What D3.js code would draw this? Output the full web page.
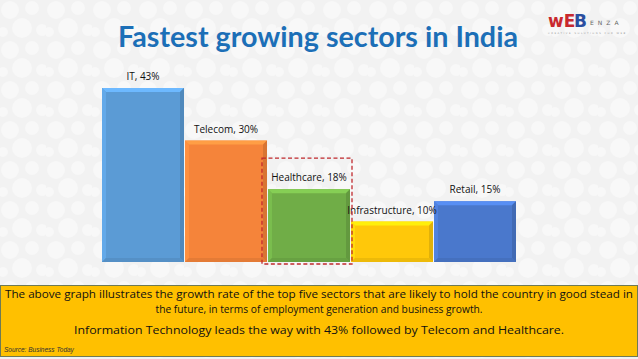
<!DOCTYPE html>
<html><head><meta charset="utf-8">
<script src="https://cdn.jsdelivr.net/npm/d3@7"></script>
<style>html,body{margin:0;padding:0;background:#f4f4f4;}svg{display:block;}</style>
</head><body>
<script>
const categories = ["IT", "Telecom", "Healthcare", "Infrastructure", "Retail"];
const values = [43, 30, 18, 10, 15];
const colors = ["#5B9BD5", "#F5843A", "#70AD47", "#FFC80A", "#4A78CC"];
const title = "Fastest growing sectors in India";
const notes = [
  "The above graph illustrates the growth rate of the top five sectors that are likely to hold the country in good stead in",
  "the future, in terms of employment generation and business growth.",
  "Information Technology leads the way with 43% followed by Telecom and Healthcare."
];
const source = "Source: Business Today";

const W = 638, H = 359;
const svg = d3.select("body").append("svg").attr("width", W).attr("height", H);
const defs = svg.append("defs");

// background circle texture
const pat = defs.append("pattern").attr("id","bgp").attr("width",46).attr("height",40).attr("patternUnits","userSpaceOnUse");
pat.append("rect").attr("width",46).attr("height",40).attr("fill","#f2f2f2");
[[10,10,9],[32,8,7],[22,28,10],[42,30,6],[3,32,5]].forEach(c=>{
  pat.append("circle").attr("cx",c[0]).attr("cy",c[1]).attr("r",c[2]).attr("fill","#f8f8f8");
});
svg.append("rect").attr("width",W).attr("height",H).attr("fill","url(#bgp)");

// title
svg.append("text").attr("x", 318).attr("y", 47).attr("text-anchor","middle")
  .attr("font-family","Lato, 'DejaVu Sans', sans-serif").attr("font-weight",700)
  .attr("font-size",28).attr("fill","#1C6FB7")
  .attr("textLength",400).attr("lengthAdjust","spacingAndGlyphs").text(title);

// logo
const logo = svg.append("g").attr("font-family","'DejaVu Sans', sans-serif");
logo.append("text").attr("x",548).attr("y",27).attr("font-size",17).attr("font-weight",700).attr("fill","#C8282E").text("wE");
logo.append("text").attr("x",574).attr("y",27).attr("font-size",17).attr("font-weight",700).attr("fill","#2B4FA0").text("B");
logo.append("text").attr("x",590).attr("y",25).attr("font-size",6).attr("letter-spacing",4).attr("fill","#666").text("ENZA");
logo.append("text").attr("x",548).attr("y",34).attr("font-size",2.5).attr("letter-spacing",1.5).attr("fill","#999").text("CREATIVE SOLUTIONS FOR WEB");

// scales
const x = d3.scaleBand().domain(categories).range([102, 516]).paddingInner(0.012);
const y = d3.scaleLinear().domain([0, 43]).range([262, 88]);

const bars = svg.append("g");
const b = 4;
categories.forEach((c,i)=>{
  const x0 = x(c), w = x.bandwidth(), y0 = y(values[i]), y1 = y(0);
  const base = d3.color(colors[i]);
  const g = bars.append("g");
  g.append("rect").attr("x",x0).attr("y",y0).attr("width",w).attr("height",y1-y0).attr("fill",base);
  const lighter = base.brighter(0.5).formatHex(), light2 = base.brighter(0.25).formatHex();
  const darker = base.darker(0.35).formatHex(), darker2 = base.darker(0.2).formatHex();
  g.append("polygon").attr("points",[[x0,y0],[x0+w,y0],[x0+w-b,y0+b],[x0+b,y0+b]].join(" ")).attr("fill",lighter);
  g.append("polygon").attr("points",[[x0,y0],[x0+b,y0+b],[x0+b,y1-b],[x0,y1]].join(" ")).attr("fill",light2);
  g.append("polygon").attr("points",[[x0+w,y0],[x0+w,y1],[x0+w-b,y1-b],[x0+w-b,y0+b]].join(" ")).attr("fill",darker);
  g.append("polygon").attr("points",[[x0,y1],[x0+w,y1],[x0+w-b,y1-b],[x0+b,y1-b]].join(" ")).attr("fill",darker2);
  svg.append("text").attr("x",x0+w/2).attr("y",y0-8).attr("text-anchor","middle")
    .attr("font-family","'Open Sans', sans-serif").attr("font-size",10).attr("fill","#111")
    .text(`${c}, ${values[i]}%`);
});

// highlight dashed box around Healthcare
const hx = x("Healthcare");
svg.append("rect").attr("x",hx-6).attr("y",y(18)-31).attr("width",x.bandwidth()+8).attr("height",y(0)-y(18)+33)
  .attr("fill","none").attr("stroke","#C0282D").attr("stroke-width",1.3).attr("stroke-dasharray","4,2.5");

// note box
svg.append("rect").attr("x",0.5).attr("y",285.5).attr("width",637).attr("height",71).attr("fill","#FFC000").attr("stroke","#6E7A55").attr("stroke-width",1);
const nf = "'Open Sans', sans-serif";
svg.append("text").attr("x",5).attr("y",298).attr("font-family",nf).attr("font-size",11).attr("fill","#111").text(notes[0])
  .attr("textLength",628).attr("lengthAdjust","spacingAndGlyphs");
svg.append("text").attr("x",319).attr("y",313).attr("text-anchor","middle").attr("font-family",nf).attr("font-size",11).attr("fill","#111").text(notes[1])
  .attr("textLength",327).attr("lengthAdjust","spacingAndGlyphs");
svg.append("text").attr("x",319).attr("y",334).attr("text-anchor","middle").attr("font-family",nf).attr("font-size",11).attr("fill","#111").text(notes[2])
  .attr("textLength",490).attr("lengthAdjust","spacingAndGlyphs");
svg.append("text").attr("x",4).attr("y",352).attr("font-family","'Liberation Sans', sans-serif").attr("font-style","italic").attr("font-size",6.5).attr("fill","#333").text(source);
</script>
</body></html>
